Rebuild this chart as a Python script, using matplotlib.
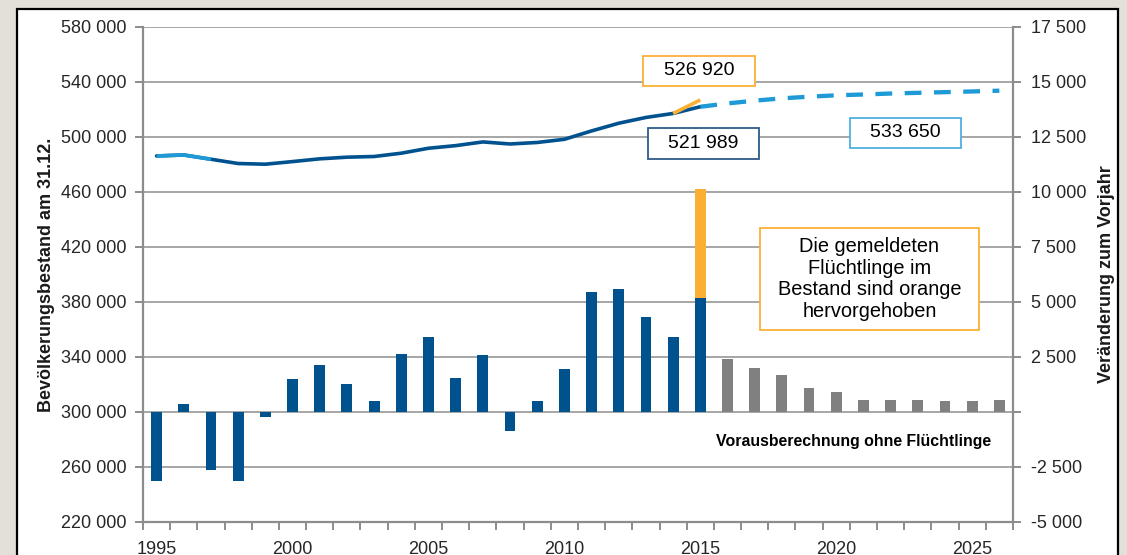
import matplotlib
matplotlib.use("Agg")
import matplotlib.pyplot as plt
from matplotlib.patches import Rectangle
from matplotlib.ticker import FixedLocator, FuncFormatter
import numpy as np

plt.rcParams['font.family'] = ['Liberation Sans', 'DejaVu Sans']

# ---------------- data ----------------
years_hist = list(range(1995, 2016))
years_proj = list(range(2016, 2027))
years_proj_line = list(range(2015, 2027))

change_hist = [-3150, 370, -2650, -3150, -250, 1520, 2130, 1270, 520, 2620,
               3400, 1530, 2590, -850, 490, 1960, 5440, 5580, 4310, 3410, 5170]
refugees_2015 = 4980
change_proj = [2390, 1980, 1670, 1100, 920, 540, 540, 530, 520, 520, 540]

population_hist = [486200, 486900, 483800, 480700, 480200, 482100, 484100, 485300,
                   485800, 488200, 491800, 493700, 496400, 494900, 496000, 498300,
                   504400, 510000, 514200, 517100, 521989]
population_refugees = [517100, 526920]          # 2014 -> 2015 incl. refugees
population_proj = [521989, 524400, 526400, 528100, 529300, 530300, 530900,
                   531600, 532100, 532600, 533100, 533650]

left_ticks = [220000, 260000, 300000, 340000, 380000, 420000, 460000, 500000, 540000, 580000]
right_ticks = [-5000, -2500, 0, 2500, 5000, 7500, 10000, 12500, 15000, 17500]
x_labels = [1995, 2000, 2005, 2010, 2015, 2020, 2025]

# ---------------- colours ----------------
DARK = '#00528f'
LIGHT = '#1e9bd7'
ORANGE = '#fbb034'
GREY_BAR = '#808080'
GRID = '#a6a6a6'
SPINE = '#8c8c8c'
TXT = '#262626'

fig = plt.figure(figsize=(11.27, 5.55), dpi=100)
fig.patch.set_facecolor('#e2e0d8')
fig.patches.append(Rectangle((0.0151, -0.02), 0.9770, 1.0038, transform=fig.transFigure,
                             facecolor='white', edgecolor='black', linewidth=1.6, zorder=0))

ax = fig.add_axes([0.1269, 0.0595, 0.7719, 0.8919])
ax.set_zorder(2)
ax.patch.set_visible(False)
ax2 = ax.twinx()
ax2.set_zorder(1)

# ---------------- bars (right axis) ----------------
w = 0.4
ax2.bar(years_hist, change_hist, width=w, color=DARK, zorder=3)
ax2.bar([2015], [refugees_2015], bottom=[change_hist[-1]], width=w, color=ORANGE, zorder=3)
ax2.bar(years_proj, change_proj, width=w, color=GREY_BAR, zorder=3)

ax2.set_ylim(-5000, 17500)
ax2.yaxis.set_major_locator(FixedLocator(right_ticks))
ax2.yaxis.set_major_formatter(FuncFormatter(
    lambda v, p: '' if v == 0 else f'{int(v):,}'.replace(',', ' ')))

# ---------------- line (left axis) ----------------
LW = 2.6
ax.plot(years_hist, population_hist, color=DARK, lw=LW, solid_capstyle='round',
        solid_joinstyle='round', zorder=5)
ax.plot(years_hist[:3], population_hist[:3], color=LIGHT, lw=LW, solid_capstyle='butt',
        solid_joinstyle='round', zorder=5)
ax.plot([2014, 2015], population_refugees, color=ORANGE, lw=LW, solid_capstyle='butt', zorder=6)
ax.plot(years_proj_line, population_proj, color=LIGHT, lw=3.1, dashes=(3.9, 2.9), zorder=5)

ax.set_ylim(220000, 580000)
ax.set_xlim(1994.5, 2026.5)
ax.yaxis.set_major_locator(FixedLocator(left_ticks))
ax.yaxis.set_major_formatter(FuncFormatter(lambda v, p: f'{int(v):,}'.replace(',', ' ')))

# grid on left axis values
for t in left_ticks:
    ax2.axhline((t - 300000) / 16.0, color=GRID, lw=1.4, zorder=1)

# x axis: category boundaries as ticks, labels every 5 years
ax.xaxis.set_major_locator(FixedLocator(x_labels))
ax.xaxis.set_minor_locator(FixedLocator(np.arange(1994.5, 2027, 1.0)))
ax.tick_params(axis='x', which='major', length=0, pad=14, labelsize=13, labelcolor=TXT)
ax.tick_params(axis='x', which='minor', length=6, width=1.4, color=SPINE)
ax.tick_params(axis='y', length=6, width=1.4, color=SPINE, pad=6, labelsize=13, labelcolor=TXT)
ax2.tick_params(axis='y', length=6, width=1.4, color=SPINE, pad=7, labelsize=13, labelcolor=TXT)
ax2.tick_params(axis='x', length=0)

for a in (ax, ax2):
    for s in a.spines.values():
        s.set_visible(False)
ax.spines['left'].set_visible(True)
ax.spines['bottom'].set_visible(True)
ax2.spines['right'].set_visible(True)
for s in (ax.spines['left'], ax.spines['bottom'], ax2.spines['right']):
    s.set_color(SPINE)
    s.set_linewidth(1.6)

ax.set_ylabel('Bevölkerungsbestand am 31.12.', fontsize=13, fontweight='bold',
              color='#1a1a1a', labelpad=4)
ax2.set_ylabel('Veränderung zum Vorjahr', fontsize=13, fontweight='bold',
               color='#1a1a1a', labelpad=8)

# ---------------- annotation boxes ----------------
def box(x0, x1, y0, y1, ec, text, fs=14, ls=1.2):
    ax.add_patch(Rectangle((x0, y0), x1 - x0, y1 - y0, transform=ax.transAxes,
                           facecolor='white', edgecolor=ec, linewidth=1.3, zorder=8,
                           clip_on=False))
    ax.text((x0 + x1) / 2, (y0 + y1) / 2, text, transform=ax.transAxes, ha='center',
            va='center', fontsize=fs, color='black', zorder=9, linespacing=ls)

box(0.5747, 0.7034, 0.8808, 0.9414, ORANGE, '526 920')
box(0.5805, 0.7080, 0.7333, 0.7960, '#2e5b8a', '521 989')
box(0.8126, 0.9402, 0.7556, 0.8162, '#4fb0e0', '533 650')
box(0.7092, 0.9609, 0.3879, 0.5939, ORANGE,
    'Die gemeldeten\nFlüchtlinge im\nBestand sind orange\nhervorgehoben', fs=14.4, ls=1.18)

ax.text(0.817, 0.162, 'Vorausberechnung ohne Flüchtlinge', transform=ax.transAxes,
        ha='center', va='center', fontsize=11.4, fontweight='bold', color='black', zorder=9)

fig.savefig('out.png', dpi=100, facecolor=fig.get_facecolor())
